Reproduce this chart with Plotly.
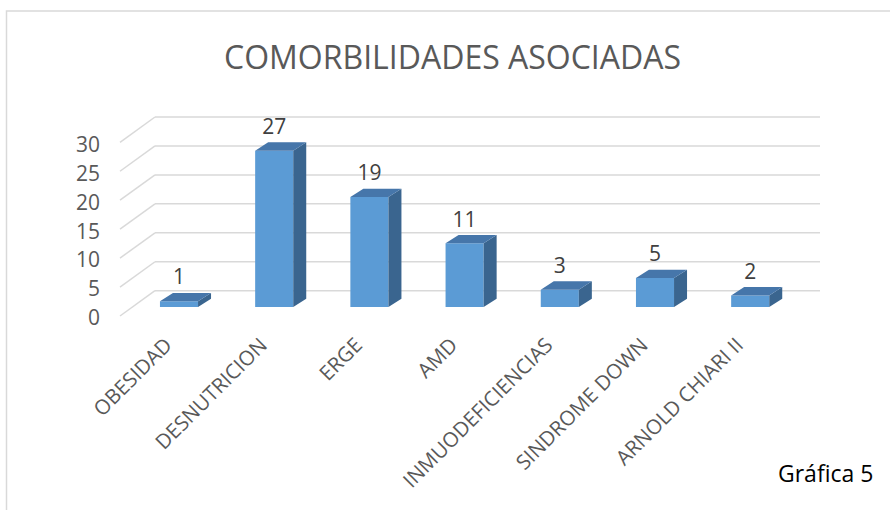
import plotly.graph_objects as go

# ---------------- data ----------------
categories = ["OBESIDAD", "DESNUTRICION", "ERGE", "AMD",
              "INMUODEFICIENCIAS", "SINDROME DOWN", "ARNOLD CHIARI II"]
values = [1, 27, 19, 11, 3, 5, 2]
y_ticks = [0, 5, 10, 15, 20, 25, 30]
y_tick_labels = ["0", "5", "10", "15", "20", "25", "30"]
title_text = "COMORBILIDADES ASOCIADAS"
note_text = "Gráfica 5"

# ---------------- geometry (pixels) ----------------
W, H = 890, 510
PX_X0 = 179.0     # px of first category centre (front plane)
PX_DX = 95.2      # px per category
PX_Y0 = 307.0     # px of value 0 on the bars' front plane
PX_DY = 5.79      # px per value unit
PLOT_L, PLOT_R, PLOT_T, PLOT_B = 101, 840, 100, 318

xr = [(PLOT_L - PX_X0) / PX_DX, (PLOT_R - PX_X0) / PX_DX]
yr = [(PX_Y0 - PLOT_B) / PX_DY, (PX_Y0 - PLOT_T) / PX_DY]


def ddx(px):
    return px / PX_DX


def ddy(px):
    return px / PX_DY


def paper_x(px):
    return (px - PLOT_L) / (PLOT_R - PLOT_L)


def paper_y(py):
    return (PLOT_B - py) / (PLOT_B - PLOT_T)


BAR_W = 0.4
DEPTH_X = ddx(13)
DEPTH_Y = ddy(8.3)
WALL_X0 = ddx(155 - PX_X0)
WALL_X1 = ddx(820 - PX_X0)
WALL_DY = ddy(16.3)
FRONT_X = ddx(120 - PX_X0)
FRONT_DY = -ddy(9)
LABEL_DY = ddy(22)

FRONT_COLOR = "#5B9BD5"
TOP_COLOR = "#4676AA"
SIDE_COLOR = "#3A658F"
GRID_COLOR = "#D9D9D9"
FONT = "Open Sans"

xs = list(range(len(categories)))

fig = go.Figure()

# front faces
fig.add_trace(go.Bar(
    x=xs, y=values, width=BAR_W, base=0,
    marker=dict(color=FRONT_COLOR, line=dict(width=0)),
    hoverinfo="skip", showlegend=False,
))

# side faces & top faces derived from values
side_x, side_y, top_x, top_y = [], [], [], []
for i, v in zip(xs, values):
    r = i + BAR_W / 2
    l = i - BAR_W / 2
    side_x += [r, r, r + DEPTH_X, r + DEPTH_X, r, None]
    side_y += [0, v, v + DEPTH_Y, DEPTH_Y, 0, None]
    top_x += [l, r, r + DEPTH_X, l + DEPTH_X, l, None]
    top_y += [v, v, v + DEPTH_Y, v + DEPTH_Y, v, None]

fig.add_trace(go.Scatter(x=side_x, y=side_y, mode="lines", fill="toself",
                         fillcolor=SIDE_COLOR, line=dict(width=0, color=SIDE_COLOR),
                         hoverinfo="skip", showlegend=False))
fig.add_trace(go.Scatter(x=top_x, y=top_y, mode="lines", fill="toself",
                         fillcolor=TOP_COLOR, line=dict(width=0, color=TOP_COLOR),
                         hoverinfo="skip", showlegend=False))

# data labels
fig.add_trace(go.Scatter(
    x=xs, y=[v + LABEL_DY for v in values], mode="text",
    text=[str(v) for v in values], textposition="middle center",
    textfont=dict(family=FONT, size=21, color="#404040"),
    hoverinfo="skip", showlegend=False, cliponaxis=False,
))

# back-wall gridlines and side-wall diagonals
shapes = []
for v in y_ticks:
    shapes.append(dict(type="line", xref="x", yref="y", layer="below",
                       x0=WALL_X0, x1=WALL_X1, y0=v + WALL_DY, y1=v + WALL_DY,
                       line=dict(color=GRID_COLOR, width=1.5)))
    shapes.append(dict(type="line", xref="x", yref="y", layer="below",
                       x0=FRONT_X, x1=WALL_X0, y0=v + FRONT_DY, y1=v + WALL_DY,
                       line=dict(color=GRID_COLOR, width=1.5)))
# chart-area border
shapes.append(dict(type="rect", xref="paper", yref="paper", layer="below",
                   x0=paper_x(6.5), x1=paper_x(905), y0=paper_y(525), y1=paper_y(11),
                   line=dict(color=GRID_COLOR, width=1.5), fillcolor="rgba(0,0,0,0)"))

annotations = [
    dict(text=title_text, xref="paper", yref="paper", x=paper_x(452.5), y=paper_y(56),
         xanchor="center", yanchor="middle", showarrow=False,
         font=dict(family=FONT, size=32, color="#595959")),
    dict(text=note_text, xref="paper", yref="paper", x=paper_x(825), y=paper_y(473),
         xanchor="center", yanchor="middle", showarrow=False,
         font=dict(family=FONT, size=23, color="#000000")),
]

fig.update_layout(
    width=W, height=H,
    margin=dict(l=PLOT_L, r=W - PLOT_R, t=PLOT_T, b=H - PLOT_B, pad=0),
    paper_bgcolor="white", plot_bgcolor="white",
    showlegend=False, hovermode=False,
    shapes=shapes, annotations=annotations,
    font=dict(family=FONT),
    xaxis=dict(range=xr, tickvals=xs, ticktext=categories, tickangle=-45,
               showgrid=False, zeroline=False, showline=False, ticks="",
               ticklabelshift=-13, ticklabelstandoff=10,
               tickfont=dict(family=FONT, size=20.5, color="#595959"),
               fixedrange=True),
    yaxis=dict(range=yr, tickvals=y_ticks, ticktext=y_tick_labels,
               showgrid=False, zeroline=False, showline=False, ticks="",
               ticklabelshift=11,
               tickfont=dict(family=FONT, size=21, color="#595959"),
               fixedrange=True),
)

fig.write_html("out.html",
               config={"displayModeBar": False, "staticPlot": True},
               post_script="document.body.style.margin='0px';document.body.style.overflow='hidden';")
